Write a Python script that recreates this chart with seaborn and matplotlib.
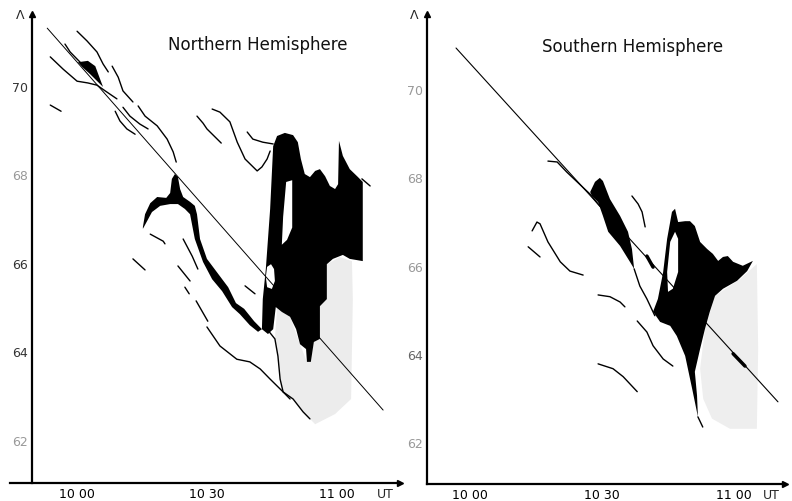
import matplotlib
matplotlib.use("Agg")
import matplotlib.pyplot as plt
import seaborn as sns

sns.set_theme(style="white")
plt.rcParams['font.family'] = ['DejaVu Sans']

# time in minutes after 10:00 UT, invariant latitude (deg)
lat_ticks = [62, 64, 66, 68, 70]
time_ticks = [0, 30, 60]
time_labels = ["10 00", "10 30", "11 00"]

# ---------------- Northern Hemisphere ----------------
n_fit = ([-6.9, 70.7], [71.31, 62.67])
n_arc_a = ([0, 2.3, 4.6, 6.0, 7.2], [71.24, 71.02, 70.77, 70.50, 70.32])
n_arc_b = ([-2.8, -1.6, 0.7], [70.95, 70.77, 70.54])
n_arc_c = ([-6.2, -3.2, 0, 2.5, 4.6, 6.5, 9.2], [70.66, 70.38, 70.11, 70.07, 70.02, 69.89, 69.71])
n_arc_d = ([8.1, 9.5, 10.6, 12.9], [70.45, 70.20, 69.89, 69.64])
n_arc_e = ([14.1, 15.7, 18.5, 20.8, 22.2, 22.9], [69.55, 69.32, 69.10, 68.80, 68.51, 68.28])
n_arc_f = ([10.6, 12.2, 14.5, 16.4], [69.52, 69.32, 69.14, 69.03])
n_arc_g = ([8.8, 9.9, 11.5, 13.4], [69.43, 69.21, 69.03, 68.91])
n_arc_h = ([-6.2, -3.7], [69.57, 69.43])
n_arc_i = ([27.7, 29.1, 30.0, 33.3], [69.32, 69.16, 69.03, 68.71])
n_arc_j = ([31.2, 33.0, 35.3, 37.0, 38.8, 41.6, 42.7, 43.9, 44.6],
           [69.48, 69.41, 69.19, 68.73, 68.35, 68.08, 68.17, 68.35, 68.53])
n_arc_k = ([39.3, 40.6, 42.9, 45.3], [68.96, 68.80, 68.73, 68.69])
n_arc_l = ([65.8, 67.7], [67.90, 67.74])
n_arc_m = ([24.5, 26.6, 27.9], [66.54, 66.15, 65.86])
n_dash_1 = ([12.9, 15.7], [66.09, 65.84])
n_dash_2 = ([16.9, 19.9, 20.3], [66.65, 66.49, 66.43])
n_dash_3 = ([23.3, 26.1], [65.93, 65.59])
n_dash_4 = ([24.9, 25.9], [65.45, 65.30])
n_dash_5 = ([27.5, 30.2], [65.14, 64.68])
n_dash_6 = ([38.8, 41.1], [65.48, 65.30])
n_arc_low = ([30.0, 33.0, 36.9, 39.9, 42.3, 44.6, 47.6, 49.9, 52.2, 53.8],
             [64.55, 64.12, 63.82, 63.76, 63.60, 63.37, 63.08, 62.92, 62.63, 62.47])
n_arc_col = ([43.9, 45.7, 46.4, 46.9, 47.6, 49.2], [64.50, 64.28, 63.89, 63.37, 63.08, 62.92])

n_blob_top = ([0.2, 2.5, 4.2, 5.3, 6.0, 3.0, 1.2],
              [70.54, 70.57, 70.45, 70.16, 69.98, 70.27, 70.43])
n_blob_bird = ([15.2, 15.7, 16.9, 18.5, 20.6, 21.5, 21.9, 22.6, 23.3, 23.8, 24.5, 26.1, 27.2,
                27.7, 28.4, 30.0, 32.6, 34.9, 36.7, 38.6, 40.9, 42.7, 41.8, 39.9, 37.6, 35.8,
                33.5, 31.2, 29.1, 27.2, 26.1, 24.9, 23.3, 21.5, 19.2, 17.3, 16.2, 15.2],
               [66.81, 67.10, 67.35, 67.49, 67.47, 67.58, 67.90, 68.01, 67.94, 67.67, 67.49,
                67.38, 67.29, 67.10, 66.54, 66.09, 65.75, 65.45, 65.09, 64.96, 64.68, 64.50,
                64.44, 64.59, 64.84, 65.00, 65.36, 65.63, 66.02, 66.54, 67.10, 67.22, 67.33,
                67.33, 67.29, 67.15, 66.95, 66.77])
n_blob_main = ([45.3, 46.2, 48.0, 49.9, 51.0, 51.7, 52.6, 53.8, 55.0, 56.1, 57.3, 58.4, 59.6,
                60.3, 60.5, 61.4, 63.0, 64.9, 66.0, 66.0, 63.0, 61.4, 59.1, 57.7, 57.7, 56.1,
                56.1, 54.7, 54.0, 53.1, 52.9, 51.5, 50.6, 49.2, 47.3, 45.9, 45.3, 44.1, 42.7,
                42.9, 43.6, 44.6],
               [68.64, 68.87, 68.94, 68.89, 68.73, 68.35, 68.01, 67.94, 68.08, 68.12, 67.96,
                67.74, 67.67, 67.78, 68.76, 68.42, 68.12, 67.94, 67.83, 66.04, 66.09, 66.18,
                66.09, 65.97, 65.18, 65.02, 64.28, 64.21, 63.76, 63.76, 64.05, 64.16, 64.50,
                64.78, 64.89, 65.00, 64.50, 64.39, 64.50, 65.18, 65.86, 67.22])
n_hole_slit = ([48.3, 49.7, 49.7, 48.5, 47.3, 47.6], [67.83, 67.87, 66.80, 66.52, 66.41, 67.04])
n_hole_oval = ([43.9, 44.8, 45.5, 45.7, 45.0, 43.9, 43.6], [65.91, 65.97, 65.86, 65.59, 65.41, 65.45, 65.68])
n_stipple = ([46.2, 49.2, 51.5, 53.1, 54.0, 54.7, 56.1, 56.1, 57.7, 57.7, 60.7, 63.5, 63.7,
              63.5, 63.3, 59.6, 55.0, 52.2, 49.9, 47.6, 46.9, 46.4, 45.7],
             [64.96, 64.78, 64.16, 63.76, 63.76, 64.21, 64.28, 65.02, 65.18, 65.97, 66.13,
              66.04, 65.18, 64.05, 62.92, 62.58, 62.35, 62.63, 62.92, 63.08, 63.37, 63.89, 64.28])

# ---------------- Southern Hemisphere ----------------
s_fit = ([-3.2, 70.0], [70.93, 62.92])
s_arc_a = ([17.7, 19.8, 22.0, 27.3, 29.5], [68.37, 68.35, 68.12, 67.62, 67.35])
s_arc_b = ([36.8, 38.2, 39.1, 39.8], [67.58, 67.40, 67.22, 66.88])
s_arc_c = ([14.1, 15.2, 15.9, 17.7, 20.5, 22.7, 25.7], [66.79, 66.99, 66.95, 66.54, 66.09, 65.88, 65.79])
s_arc_d = ([13.2, 15.9], [66.43, 66.20])
s_arc_e = ([29.1, 31.8, 34.1, 35.2], [65.34, 65.30, 65.18, 65.07])
s_arc_f = ([38.0, 40.2, 41.6, 43.9, 46.1], [64.75, 64.50, 64.19, 63.89, 63.73])
s_arc_g = ([29.1, 32.5, 34.8, 38.0], [63.78, 63.67, 63.49, 63.15])
s_arc_h = ([37.3, 38.6, 40.2, 42.0], [65.93, 65.54, 65.25, 64.87])
s_arc_tip = ([51.8, 52.9], [62.58, 62.35])
s_thick_1 = ([40.2, 41.6], [66.22, 65.97])
s_thick_2 = ([59.8, 62.5], [64.01, 63.73])

s_blob_leaf = ([27.3, 28.4, 29.5, 30.2, 31.8, 34.1, 35.9, 36.8, 37.3, 36.4, 34.1, 31.4, 30.2, 29.1, 27.7],
               [67.67, 67.90, 67.99, 67.92, 67.51, 67.13, 66.77, 66.38, 65.93, 66.08, 66.45,
                66.77, 67.13, 67.44, 67.58])
s_blob_main = ([51.8, 50.5, 48.9, 47.0, 45.5, 43.2, 41.6, 42.7, 43.9, 44.8, 45.9, 46.6, 47.3,
                48.9, 50.0, 51.1, 52.3, 53.9, 55.2, 56.4, 57.5, 58.6, 59.8, 62.0, 64.3, 63.0,
                60.7, 57.5, 55.7, 54.5, 53.4, 52.3, 51.1, 51.6],
               [62.58, 63.21, 63.96, 64.41, 64.64, 64.73, 64.96, 65.25, 65.86, 66.61, 67.22,
                67.29, 66.99, 67.01, 67.01, 66.90, 66.54, 66.38, 66.27, 66.11, 66.20, 66.22,
                66.09, 66.00, 66.11, 65.88, 65.66, 65.48, 65.32, 64.96, 64.57, 64.12, 63.60, 63.06])
s_hole = ([45.0, 44.8, 45.5, 46.6, 47.3, 47.3, 46.1], [65.41, 65.86, 66.54, 66.77, 66.61, 65.86, 65.48])
s_stipple = ([53.4, 55.7, 61.4, 65.2, 65.5, 65.2, 59.1, 55.0, 53.0, 52.3],
             [64.57, 65.32, 65.70, 66.04, 64.12, 62.31, 62.31, 62.54, 62.99, 63.67])

n_arcs = [n_arc_a, n_arc_b, n_arc_c, n_arc_d, n_arc_e, n_arc_f, n_arc_g, n_arc_h, n_arc_i,
          n_arc_j, n_arc_k, n_arc_l, n_arc_m, n_dash_1, n_dash_2, n_dash_3, n_dash_4,
          n_dash_5, n_dash_6, n_arc_low, n_arc_col]
s_arcs = [s_arc_a, s_arc_b, s_arc_c, s_arc_d, s_arc_e, s_arc_f, s_arc_g, s_arc_h, s_arc_tip]

INK = "#000000"


def trace(ax, arc, lw=1.0):
    sns.lineplot(x=arc[0], y=arc[1], sort=False, estimator=None, color=INK,
                 linewidth=lw, ax=ax, zorder=5)


def patch(ax, shape, color, z=2):
    ax.fill(shape[0], shape[1], color=color, lw=0, zorder=z)


def frame(ax, x0, lab_colors, title, tx, ty):
    for s in ["top", "right"]:
        ax.spines[s].set_visible(False)
    for s in ["left", "bottom"]:
        ax.spines[s].set_linewidth(1.6)
        ax.spines[s].set_color(INK)
    ax.spines["left"].set_position(("data", x0))
    ax.set_xticks(time_ticks, time_labels)
    ax.set_yticks(lat_ticks)
    ax.tick_params(direction="inout", length=4, width=1, labelsize=9, pad=1, colors=INK)
    for lab, c in zip(ax.get_yticklabels(), lab_colors):
        lab.set_color(c)
    ax.set_xlabel("")
    ax.set_ylabel("")
    ax.plot(1, 0, marker=">", ms=4, color=INK, transform=ax.transAxes, clip_on=False)
    ax.plot(x0, 1, marker="^", ms=4, color=INK, transform=ax.get_xaxis_transform(), clip_on=False)
    ax.text(x0, 1.0, "Λ  ", transform=ax.get_xaxis_transform(), ha="right", va="center", fontsize=9)
    ax.text(tx, ty, title, transform=ax.transAxes, ha="center", va="center", fontsize=12, color="#111")
    ax.text(0.985, -0.009, "UT", transform=ax.transAxes, ha="right", va="top", fontsize=9)


fig = plt.figure(figsize=(7.92, 5.02), dpi=100)
ax1 = fig.add_axes([10 / 792, 18 / 502, 390 / 792, 469 / 502])
ax2 = fig.add_axes([427 / 792, 17 / 502, 358 / 792, 470 / 502])

# Northern panel
patch(ax1, n_stipple, "#ececec", 1)
patch(ax1, n_blob_top, INK)
patch(ax1, n_blob_bird, INK)
patch(ax1, n_blob_main, INK)
patch(ax1, n_hole_slit, "white", 3)
patch(ax1, n_hole_oval, "white", 3)
trace(ax1, n_fit, 0.7)
for arc in n_arcs:
    trace(ax1, arc)
ax1.set_xlim(-15.5, 74.6)
ax1.set_ylim(61.02, 71.63)
frame(ax1, -10.4, ["#999", "#333", "#333", "#999", "#333"], "Northern Hemisphere", 0.635, 0.936)

# Southern panel
patch(ax2, s_stipple, "#eeeeee", 1)
patch(ax2, s_blob_leaf, INK)
patch(ax2, s_blob_main, INK)
patch(ax2, s_hole, "white", 3)
trace(ax2, s_fit, 0.8)
for arc in s_arcs:
    trace(ax2, arc)
trace(ax2, s_thick_1, 2.5)
trace(ax2, s_thick_2, 2.5)
ax2.set_xlim(-9.8, 71.6)
ax2.set_ylim(61.06, 71.70)
frame(ax2, -9.8, ["#999", "#666", "#999", "#999", "#999"], "Southern Hemisphere", 0.573, 0.932)

fig.savefig("out.png", dpi=100)
